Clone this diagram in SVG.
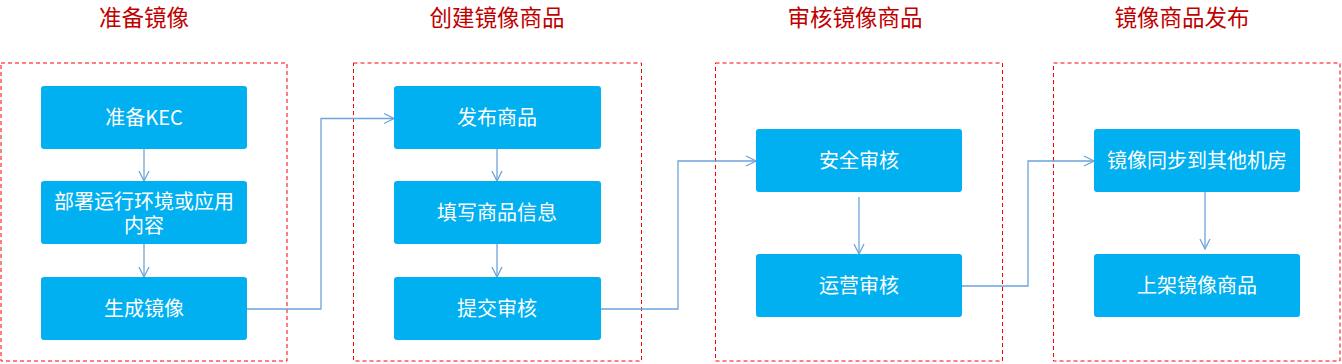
<svg xmlns="http://www.w3.org/2000/svg" width="1342" height="364" viewBox="0 0 1342 364">
  <style>
    .title { font-family: "Noto Sans CJK SC", "Microsoft YaHei", sans-serif; font-size: 22.5px; fill: #C00000; text-anchor: middle; }
    .frame { fill: none; stroke: #FF0000; stroke-width: 1; stroke-dasharray: 4 3; }
    .node rect { fill: #00B0F0; }
    .node text { font-family: "Noto Sans CJK SC", "Microsoft YaHei", sans-serif; font-size: 20px; fill: #FFFFFF; text-anchor: middle; dominant-baseline: central; }
    .conn { fill: none; stroke: #6FA3DB; stroke-width: 1.3; marker-end: url(#arrow); }
  </style>
  <defs>
    <marker id="arrow" viewBox="0 0 12 12" refX="11" refY="6" markerWidth="12" markerHeight="12" markerUnits="userSpaceOnUse" orient="auto">
      <path d="M1,1 L11,6 L1,11" fill="none" stroke="#6FA3DB" stroke-width="1.3"/>
    </marker>
  </defs>
  <rect width="1342" height="364" fill="#FFFFFF"/>

  <g id="titles">
    <text class="title" x="144" y="26">准备镜像</text>
    <text class="title" x="497" y="26">创建镜像商品</text>
    <text class="title" x="855" y="26">审核镜像商品</text>
    <text class="title" x="1182" y="26">镜像商品发布</text>
  </g>

  <g id="frames">
    <rect class="frame" x="1" y="63" width="286" height="298"/>
    <rect class="frame" x="353.5" y="63" width="288" height="298"/>
    <rect class="frame" x="715.5" y="63" width="287" height="298"/>
    <rect class="frame" x="1053.5" y="63" width="286.5" height="298"/>
  </g>

  <g id="connectors">
    <path class="conn" d="M144,149 V181"/>
    <path class="conn" d="M144,244 V277"/>
    <path class="conn" d="M497,149 V181"/>
    <path class="conn" d="M497,244 V277"/>
    <path class="conn" d="M859,197 V254"/>
    <path class="conn" d="M1205,192 V249"/>
    <path class="conn" d="M247,309 H321 V118.5 H394"/>
    <path class="conn" d="M601,309 H678 V161 H756"/>
    <path class="conn" d="M962,286 H1028 V161 H1094"/>
  </g>

  <g id="n1" class="node"><rect x="41" y="86" width="206" height="63" rx="3"/><text x="144" y="116">准备KEC</text></g>
  <g id="n2" class="node"><rect x="41" y="181" width="206" height="63" rx="3"/><text x="144" y="200">部署运行环境或应用<tspan x="144" dy="24">内容</tspan></text></g>
  <g id="n3" class="node"><rect x="41" y="277" width="206" height="63" rx="3"/><text x="144" y="307">生成镜像</text></g>

  <g id="n4" class="node"><rect x="394" y="86" width="207" height="63" rx="3"/><text x="497" y="116">发布商品</text></g>
  <g id="n5" class="node"><rect x="394" y="181" width="207" height="63" rx="3"/><text x="497" y="211">填写商品信息</text></g>
  <g id="n6" class="node"><rect x="394" y="277" width="207" height="63" rx="3"/><text x="497" y="307">提交审核</text></g>

  <g id="n7" class="node"><rect x="756" y="129" width="206" height="63" rx="3"/><text x="859" y="159">安全审核</text></g>
  <g id="n8" class="node"><rect x="756" y="254" width="206" height="63" rx="3"/><text x="859" y="284">运营审核</text></g>

  <g id="n9" class="node"><rect x="1094" y="129" width="206" height="63" rx="3"/><text x="1197" y="159">镜像同步到其他机房</text></g>
  <g id="n10" class="node"><rect x="1094" y="254" width="206" height="63" rx="3"/><text x="1197" y="284">上架镜像商品</text></g>
</svg>
